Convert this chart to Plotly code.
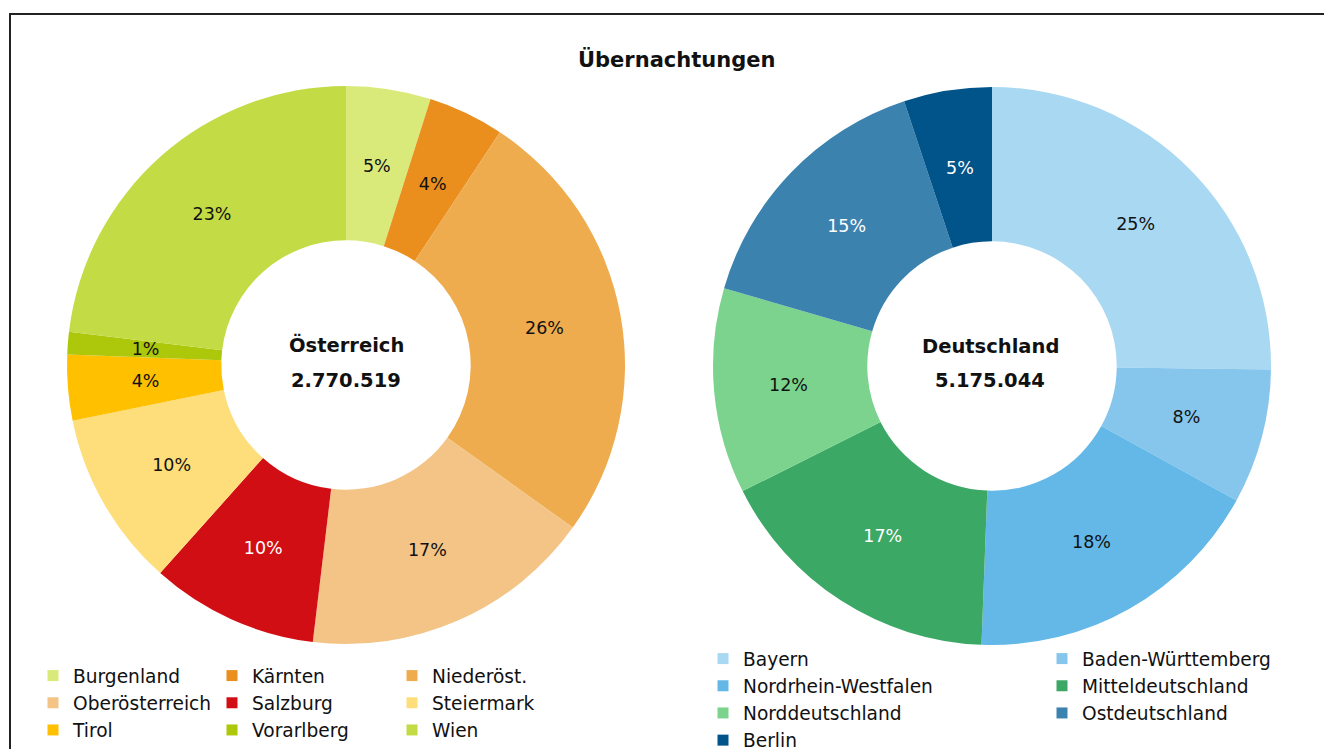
import plotly.graph_objects as go

W, H = 1324, 749

title_text = "Übernachtungen"

at_name = "Österreich"
at_labels = ["Burgenland", "Kärnten", "Niederöst.", "Oberösterreich", "Salzburg",
             "Steiermark", "Tirol", "Vorarlberg", "Wien"]
at_values = [135755, 121903, 709253, 470988, 268740, 282593, 105280, 36017, 639990]
at_colors = ["#DAEA7A", "#EA8F1E", "#EFAC4E", "#F3C486", "#D20E15",
             "#FDDE7A", "#FFC000", "#ADC70B", "#C3DB45"]
at_textcolors = ["#111111", "#111111", "#111111", "#111111", "#FFFFFF",
                 "#111111", "#111111", "#111111", "#111111"]

de_name = "Deutschland"
de_labels = ["Bayern", "Baden-Württemberg", "Nordrhein-Westfalen", "Mitteldeutschland",
             "Norddeutschland", "Ostdeutschland", "Berlin"]
de_values = [1304111, 403653, 910808, 879757, 615830, 796957, 263928]
de_colors = ["#A9D8F2", "#86C6EC", "#63B8E7", "#3CA865", "#7BD38E", "#3C82AF", "#00548A"]
de_textcolors = ["#111111", "#111111", "#111111", "#FFFFFF", "#111111", "#FFFFFF", "#FFFFFF"]

# legend column layout (indices into label lists)
at_columns = [[0, 3, 6], [1, 4, 7], [2, 5, 8]]
de_columns = [[0, 2, 4, 6], [1, 3, 5]]

FONT = "DejaVu Sans"
LABEL_SIZE = 17.5
LEGEND_SIZE = 18.6


def px_x(p):
    return p / W


def px_y(p):
    return 1 - p / H


def fmt_total(v):
    return f"{v:,}".replace(",", ".")


def domain_for(cx, cy, r):
    return dict(x=[px_x(cx - r), px_x(cx + r)], y=[px_y(cy + r), px_y(cy - r)])


fig = go.Figure()

# (share range, outer radius px, hole) -> label layers so that every percentage
# sits at the middle of the ring, like the reference
label_layers = [
    (0.11, 1.01, None, None),      # drawn by the main donut itself
    (0.02, 0.11, 225, 0.787),      # mid-size slices
    (0.0, 0.02, 208, 0.933),       # very thin slices
]

donuts = [
    (at_labels, at_values, at_colors, at_textcolors, 346, 365),
    (de_labels, de_values, de_colors, de_textcolors, 992, 366),
]

R_MAIN = 279
HOLE = 0.447

for labels, values, colors, tcolors, cx, cy in donuts:
    total = sum(values)
    shares = [v / total for v in values]
    for lo, hi, rad, hole in label_layers:
        tt = ["%{percent:.0%}" if lo <= s < hi else "" for s in shares]
        if rad is None:
            fig.add_trace(go.Pie(
                labels=labels, values=values, hole=HOLE, sort=False,
                direction="clockwise", rotation=0,
                marker=dict(colors=colors, line=dict(width=0)),
                textposition="inside", insidetextorientation="horizontal",
                texttemplate=tt,
                insidetextfont=dict(family=FONT, size=LABEL_SIZE, color=tcolors),
                domain=domain_for(cx, cy, R_MAIN),
                showlegend=False, hoverinfo="label+value+percent",
            ))
        else:
            fig.add_trace(go.Pie(
                labels=labels, values=values, hole=hole, sort=False,
                direction="clockwise", rotation=0,
                marker=dict(colors=["rgba(0,0,0,0)"] * len(values), line=dict(width=0)),
                textposition="inside", insidetextorientation="horizontal",
                texttemplate=tt,
                insidetextfont=dict(family=FONT, size=LABEL_SIZE, color=tcolors),
                domain=domain_for(cx, cy, rad),
                showlegend=False, hoverinfo="skip",
            ))

# legend entries (one vertical legend per column)
legend_defs = []
legend_idx = 1
for cols, labels, colors, xs, top in [
    (at_columns, at_labels, at_colors, [33, 212, 392], 657),
    (de_columns, de_labels, de_colors, [703, 1042], 640),
]:
    for col, xpos in zip(cols, xs):
        lname = "legend" if legend_idx == 1 else f"legend{legend_idx}"
        for i in col:
            fig.add_trace(go.Scatter(
                x=[None], y=[None], mode="markers", name=labels[i],
                marker=dict(symbol="square", size=11, color=colors[i]),
                legend=lname, showlegend=True, hoverinfo="skip",
            ))
        legend_defs.append((lname, xpos, top))
        legend_idx += 1

layout_legends = {}
for lname, xpos, top in legend_defs:
    layout_legends[lname] = dict(
        x=px_x(xpos), y=px_y(top), xanchor="left", yanchor="top",
        xref="paper", yref="paper",
        orientation="v", bgcolor="rgba(0,0,0,0)", borderwidth=0,
        font=dict(family=FONT, size=LEGEND_SIZE, color="#111111"),
        itemclick=False, itemdoubleclick=False,
    )


def ann(x, y, text, size):
    return dict(x=px_x(x), y=px_y(y), xref="paper", yref="paper", text=f"<b>{text}</b>",
                showarrow=False, font=dict(family=FONT, size=size, color="#111111"),
                xanchor="center", yanchor="middle")


annotations = [
    ann(676, 60, title_text, 21),
    ann(346, 345, at_name, 19.5),
    ann(346, 380, fmt_total(sum(at_values)), 19.5),
    ann(990, 346, de_name, 19.5),
    ann(990, 380, fmt_total(sum(de_values)), 19.5),
]

fig.update_layout(
    width=W, height=H,
    margin=dict(l=0, r=0, t=0, b=0, autoexpand=False),
    paper_bgcolor="white", plot_bgcolor="white",
    font=dict(family=FONT, color="#111111"),
    xaxis=dict(visible=False), yaxis=dict(visible=False),
    uniformtext=dict(minsize=LABEL_SIZE, mode="show"),
    annotations=annotations,
    shapes=[dict(type="rect", xref="paper", yref="paper",
                 x0=px_x(10), y0=px_y(14), x1=1.1, y1=-0.1,
                 line=dict(color="#222222", width=2), fillcolor="rgba(0,0,0,0)")],
    **layout_legends,
)

fig.write_html("out.html", config={"displayModeBar": False},
               post_script="document.body.style.margin='0';")
